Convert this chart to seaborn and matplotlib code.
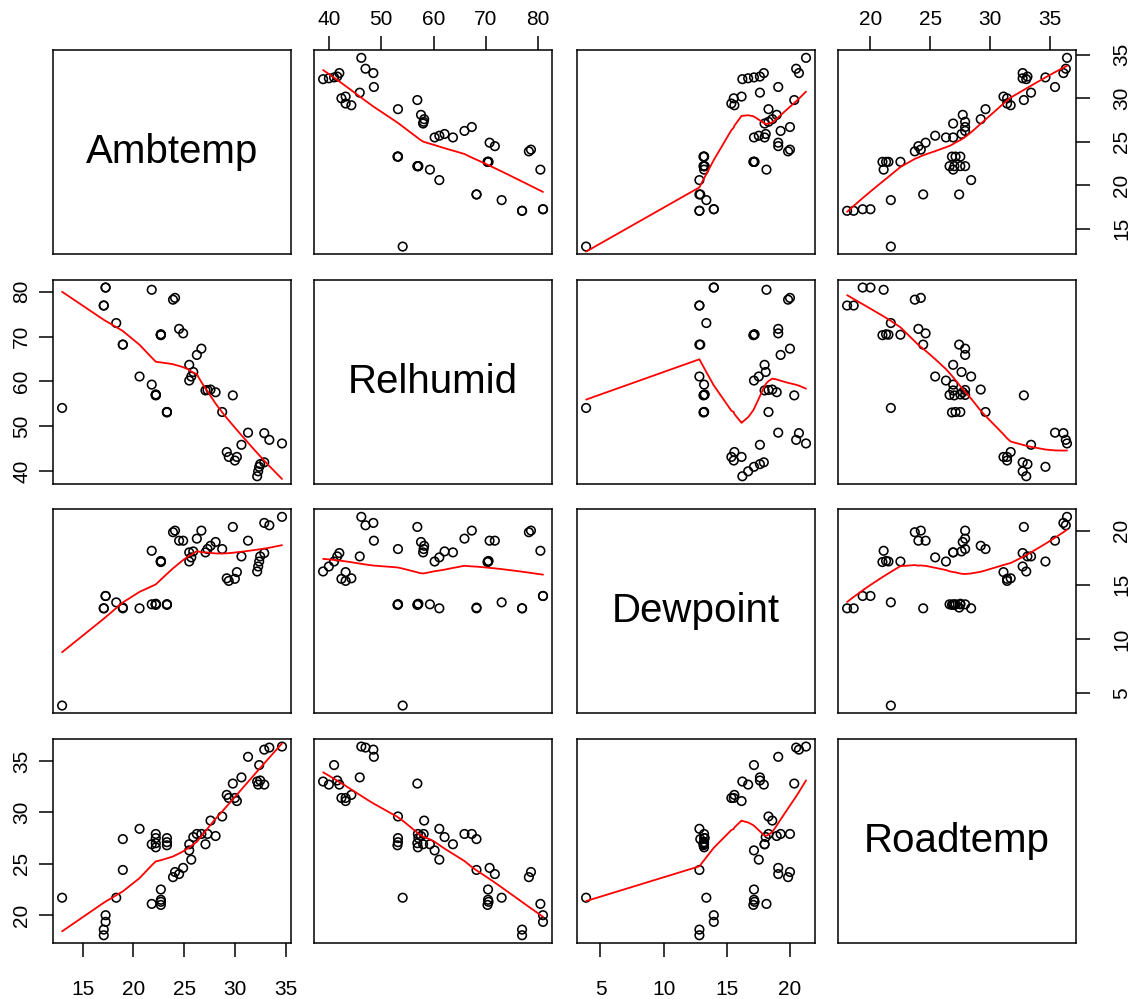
import numpy as np
import pandas as pd
import matplotlib
matplotlib.use("Agg")
import matplotlib.pyplot as plt
import seaborn as sns

# ---- data ----
variables = ["Ambtemp", "Relhumid", "Dewpoint", "Roadtemp"]
ambtemp = [12.96, 17.07, 17.07, 17.25, 17.25, 18.3, 18.95, 18.95, 20.6, 21.8,
           21.8, 22.2, 22.2, 22.2, 22.2, 22.7, 22.7, 22.7, 22.7, 23.3,
           23.3, 23.3, 23.9, 24.1, 24.5, 24.9, 25.5, 25.5, 25.7, 25.9,
           26.25, 26.7, 27.1, 27.3, 27.6, 28.1, 28.75, 29.2, 29.4, 29.8,
           30.0, 30.2, 30.65, 31.3, 32.2, 32.3, 32.4, 32.5, 32.9, 32.9,
           33.4, 34.65]
relhumid = [54.1, 76.9, 76.9, 80.9, 80.9, 73.0, 68.2, 68.2, 61.1, 80.4,
            59.3, 57.0, 57.1, 56.9, 57.0, 70.4, 70.4, 70.3, 70.5, 53.2,
            53.2, 53.1, 78.2, 78.6, 71.7, 70.7, 63.7, 60.2, 61.1, 62.1,
            65.9, 67.3, 58.0, 58.1, 58.2, 57.6, 53.2, 44.3, 43.2, 56.9,
            42.4, 43.2, 45.9, 48.6, 38.9, 40.0, 41.0, 41.6, 42.0, 48.5,
            47.0, 46.2]
dewpoint = [3.86, 12.83, 12.83, 13.97, 13.97, 13.38, 12.83, 12.9, 12.83, 18.14,
            13.2, 13.2, 13.25, 13.15, 13.2, 17.15, 17.15, 17.1, 17.2, 13.2,
            13.2, 13.15, 19.85, 20.0, 19.07, 19.07, 17.99, 17.15, 17.53, 18.08,
            19.26, 20.0, 17.99, 18.3, 18.6, 18.95, 18.3, 15.6, 15.36, 20.34,
            15.55, 16.17, 17.62, 19.07, 16.23, 16.69, 17.15, 17.62, 17.93, 20.71,
            20.49, 21.27]
roadtemp = [21.7, 18.05, 18.6, 19.35, 20.0, 21.7, 24.4, 27.4, 28.4, 21.1,
            26.9, 27.9, 27.5, 27.0, 26.6, 22.5, 21.5, 21.0, 21.3, 27.5,
            27.1, 26.8, 23.7, 24.2, 24.0, 24.6, 26.9, 26.3, 25.4, 27.6,
            27.9, 27.9, 26.9, 27.9, 29.2, 27.7, 29.6, 31.7, 31.4, 32.8,
            31.4, 31.1, 33.4, 35.4, 33.0, 32.7, 34.6, 33.1, 32.7, 36.1,
            36.3, 36.4]
ticks = {
    "Ambtemp": [15, 20, 25, 30, 35],
    "Relhumid": [40, 50, 60, 70, 80],
    "Dewpoint": [5, 10, 15, 20],
    "Roadtemp": [20, 25, 30, 35],
}

df = pd.DataFrame({"Ambtemp": ambtemp, "Relhumid": relhumid,
                   "Dewpoint": dewpoint, "Roadtemp": roadtemp})


def lowess(x, y, f=2 / 3, it=3):
    """R-style lowess smoother."""
    x = np.asarray(x, float)
    y = np.asarray(y, float)
    o = np.argsort(x, kind="stable")
    x, y = x[o], y[o]
    n = len(x)
    ns = max(2, min(n, int(f * n + 1e-7)))
    rw = np.ones(n)
    ys = np.zeros(n)
    xr = x[-1] - x[0]
    for iteration in range(it + 1):
        nleft, nright = 0, ns - 1
        for i in range(n):
            xs = x[i]
            while nright < n - 1 and xs - x[nleft] > x[nright + 1] - xs:
                nleft += 1
                nright += 1
            h = max(xs - x[nleft], x[nright] - xs)
            h9, h1 = 0.999 * h, 0.001 * h
            idx = np.arange(nleft, n)
            r = np.abs(x[idx] - xs)
            w = np.zeros(len(idx))
            m = r <= h9
            w[m] = np.where(r[m] <= h1, 1.0, (1 - (r[m] / h) ** 3) ** 3) if h > 0 else 1.0
            w *= rw[idx]
            a = w.sum()
            if a <= 0:
                ys[i] = y[i]
                continue
            w = w / a
            if h > 0:
                aa = np.sum(w * x[idx])
                b = xs - aa
                c = np.sum(w * (x[idx] - aa) ** 2)
                if np.sqrt(c) > 0.001 * xr:
                    b /= c
                    w = w * (b * (x[idx] - aa) + 1.0)
            ys[i] = np.sum(w * y[idx])
        if iteration == it:
            break
        res = y - ys
        cmad = 6 * np.median(np.abs(res))
        if cmad < 1e-7 * np.mean(np.abs(y)):
            break
        c9, c1 = 0.999 * cmad, 0.001 * cmad
        ar = np.abs(res)
        rw = np.where(ar <= c1, 1.0, np.where(ar <= c9, (1 - (ar / cmad) ** 2) ** 2, 0.0))
    return x, ys


sns.set_theme(style="white")
plt.rcParams["font.family"] = ["Liberation Sans", "DejaVu Sans"]

W, H = 1133, 999
fig = plt.figure(figsize=(W / 100, H / 100), dpi=100)
fig.patch.set_facecolor("white")

col_left = [53.3, 314.3, 577.3, 838.3]
row_top = [50.3, 280.0, 509.3, 739.0]
pw, ph = 237.5, 203.8

lims = {}
for v in variables:
    lo, hi = df[v].min(), df[v].max()
    pad = 0.04 * (hi - lo)
    lims[v] = (lo - pad, hi + pad)

tick_fs = 15
for i, vy in enumerate(variables):
    for j, vx in enumerate(variables):
        ax = fig.add_axes([col_left[j] / W, (H - row_top[i] - ph) / H, pw / W, ph / H])
        ax.set_facecolor("white")
        ax.set_xlim(lims[vx])
        ax.set_ylim(lims[vy])
        if i == j:
            ax.text(0.5, 0.5, vx, ha="center", va="center", fontsize=29,
                    transform=ax.transAxes, color="black")
        else:
            sns.scatterplot(x=df[vx], y=df[vy], ax=ax, marker="o", s=38,
                            facecolors="none", edgecolor="black", linewidth=1.15)
            lx, ly = lowess(df[vx].values, df[vy].values)
            sns.lineplot(x=lx, y=ly, ax=ax, color="red", linewidth=1.3,
                         estimator=None, sort=False)
        ax.set_xlabel("")
        ax.set_ylabel("")
        for s in ax.spines.values():
            s.set_visible(True)
            s.set_color("black")
            s.set_linewidth(1.1)
        ax.set_xticks(ticks[vx])
        ax.set_yticks(ticks[vy])
        show_bottom = (i == 3 and j % 2 == 0)
        show_top = (i == 0 and j % 2 == 1)
        show_left = (j == 0 and i % 2 == 1)
        show_right = (j == 3 and i % 2 == 0)
        ax.tick_params(axis="x", which="both", bottom=show_bottom, top=show_top,
                       labelbottom=show_bottom, labeltop=show_top,
                       direction="out", length=10, width=1.1, color="black",
                       labelsize=tick_fs, labelcolor="black")
        if show_bottom:
            ax.tick_params(axis="x", pad=17)
        if show_top:
            ax.tick_params(axis="x", pad=5)
        ax.tick_params(axis="y", which="both", left=show_left, right=show_right,
                       labelleft=show_left, labelright=show_right,
                       direction="out", length=10, width=1.1, color="black",
                       labelsize=tick_fs, labelcolor="black", labelrotation=90)
        if show_left:
            ax.tick_params(axis="y", pad=6)
            for t in ax.get_yticklabels():
                t.set_va("center")
        if show_right:
            ax.tick_params(axis="y", pad=16)
            for t in ax.get_yticklabels():
                t.set_va("center")
        ax.grid(False)

fig.savefig("out.png", dpi=100, facecolor="white")
